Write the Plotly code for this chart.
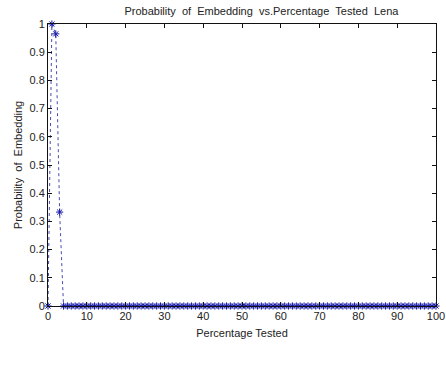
import plotly.graph_objects as go

# Data
percentage_tested = list(range(0, 101))
probability = [0.0, 1.0, 0.965, 0.333] + [0.0] * 97

x_ticks = list(range(0, 101, 10))
y_ticks = [0, 0.1, 0.2, 0.3, 0.4, 0.5, 0.6, 0.7, 0.8, 0.9, 1]
y_tick_labels = ["0", "0.1", "0.2", "0.3", "0.4", "0.5", "0.6", "0.7", "0.8", "0.9", "1"]

fig = go.Figure()
fig.add_trace(go.Scatter(
    x=percentage_tested, y=probability,
    mode="lines+markers",
    line=dict(color="#4a4ab0", width=1, dash="dot"),
    marker=dict(symbol="asterisk-open", size=6, color="#1515a8",
                line=dict(color="#1515a8", width=1)),
    cliponaxis=False,
    showlegend=False,
))

ff = "Liberation Sans, Arial, sans-serif"
font = dict(family=ff, size=11, color="#222")
nb = "\u00a0"
fig.update_layout(
    width=446, height=367,
    margin=dict(l=48, r=10, t=24, b=61),
    paper_bgcolor="white", plot_bgcolor="white",
    font=font,
    title=dict(text=f"Probability{nb}{nb}of{nb}{nb}Embedding{nb}{nb}vs.Percentage{nb}{nb}Tested{nb}{nb}Lena",
               x=0.55, xanchor="center", xref="paper", y=0.98, yref="container", yanchor="top",
               font=dict(size=11, color="#222", family=ff)),
    xaxis=dict(range=[0, 100], tickvals=x_ticks, ticks="inside", ticklen=4, tickcolor="#111",
               showline=True, linecolor="#111", linewidth=1, mirror="ticks",
               showgrid=False, zeroline=False, automargin=False, ticklabeloverflow="allow",
               title=dict(text="Percentage Tested", standoff=8, font=dict(size=11)),
               tickfont=dict(size=11)),
    yaxis=dict(range=[0, 1], tickvals=y_ticks, ticktext=y_tick_labels, ticks="inside", ticklen=4,
               tickcolor="#111", showline=True, linecolor="#111", linewidth=1, mirror="ticks",
               showgrid=False, zeroline=False, automargin=False,
               title=dict(text=f"Probability{nb}{nb}of{nb}{nb}Embedding", standoff=4, font=dict(size=11)),
               tickfont=dict(size=11)),
)

fig.write_html("out.html", config={"displayModeBar": False},
               post_script="document.body.style.margin='0';document.body.style.overflow='hidden';")
